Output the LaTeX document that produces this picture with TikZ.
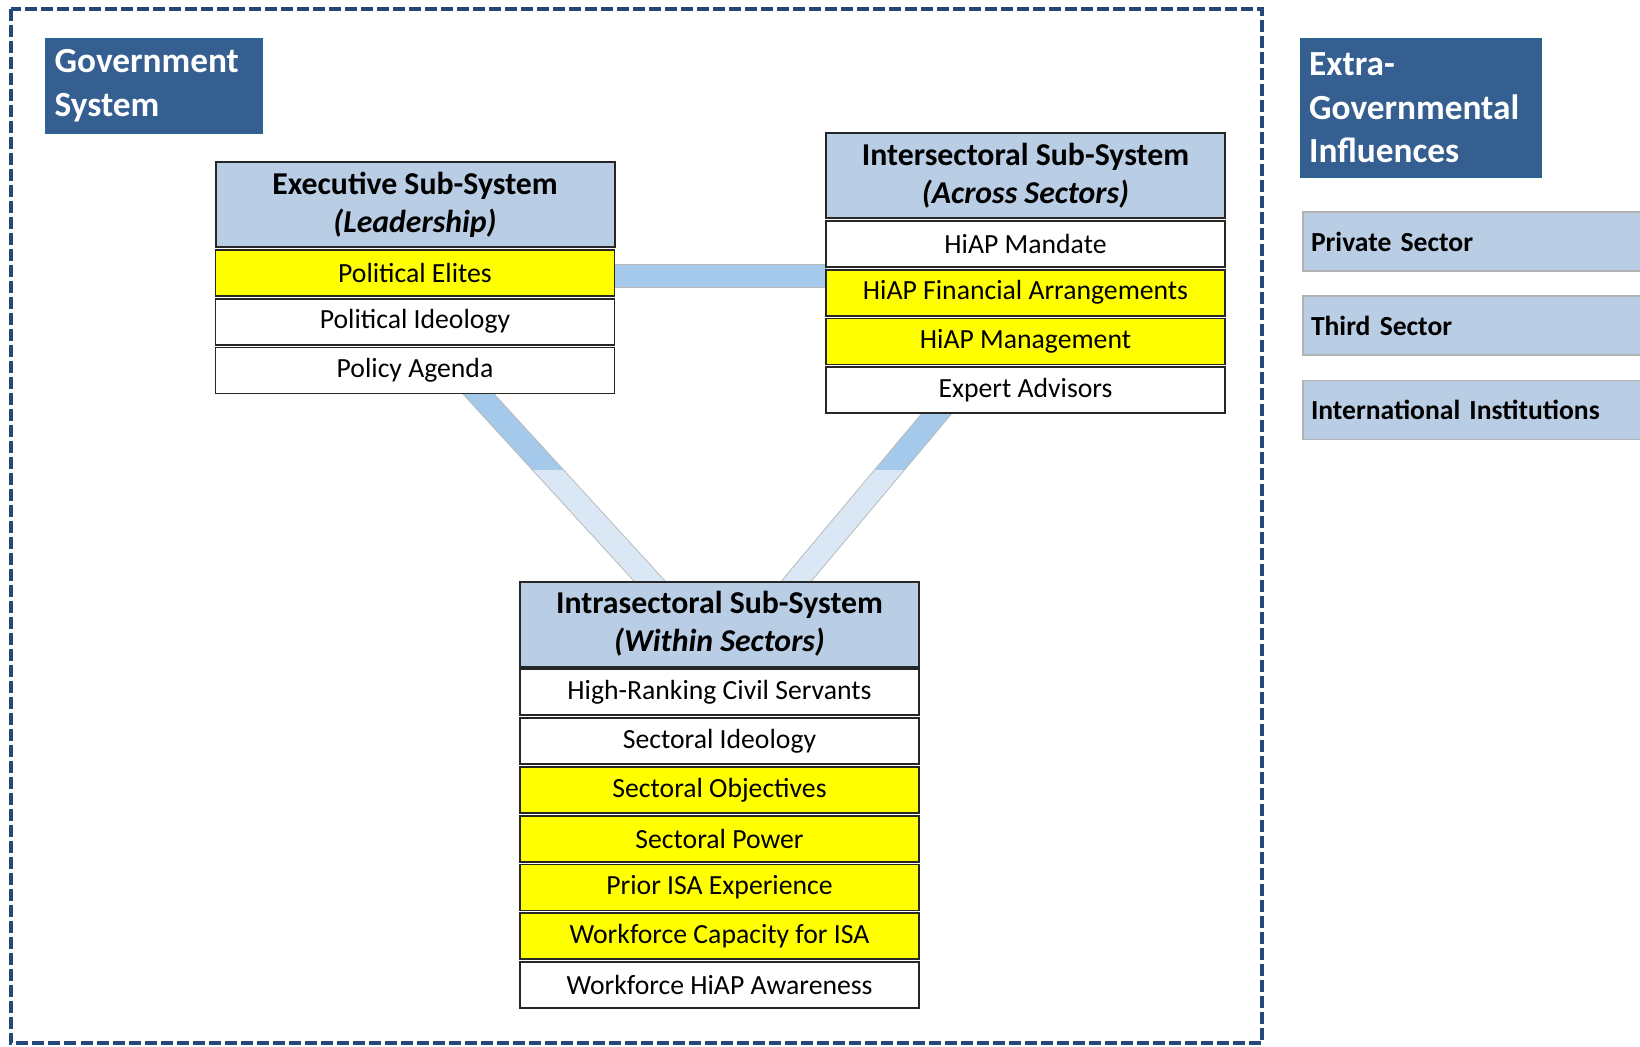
\documentclass[tikz,border=0pt]{standalone}
\usepackage{fontspec}
\setmainfont{Carlito}
\usetikzlibrary{positioning, calc, backgrounds}
\definecolor{GovBlue}{HTML}{365F91}
\definecolor{HeadBlue}{HTML}{B9CDE5}
\definecolor{FrameBlue}{HTML}{24487A}
\definecolor{BandDark}{HTML}{A4C9EB}
\definecolor{BandLight}{HTML}{DAE8F6}
\definecolor{HiYellow}{HTML}{FFFF00}

\tikzset{
  frame/.style={FrameBlue, line width=2pt, dash pattern=on 6pt off 2pt},
  govtitle/.style={anchor=north west, fill=GovBlue, draw=GovBlue!70!teal, line width=0.6pt,
    text=white, align=left, inner xsep=4.5pt, inner ysep=0pt},
  head/.style={anchor=north west, draw=black!85, line width=1pt, fill=HeadBlue,
    minimum width=199.5pt, minimum height=42.5pt, inner sep=0pt, outer sep=0pt, align=center,
    font=\bfseries\fontsize{15.9}{18.85}\selectfont},
  item/.style={draw=black!85, line width=0.9pt, fill=white, minimum width=199.5pt,
    minimum height=23pt, inner sep=0pt, outer sep=0pt, font=\fontsize{13.85}{16}\selectfont},
  hot/.style={item, fill=HiYellow},
  sector/.style={anchor=north west, draw=gray!60, line width=0.6pt, fill=HeadBlue,
    minimum height=29.5pt, text width=163pt, inner xsep=4pt, outer sep=0pt, align=left,
    font=\bfseries\fontsize{13.8}{16}\selectfont},
  bandline/.style={draw=gray!55, line width=0.4pt}
}

% band between two coordinates, pushed #3 into the boxes; darker above y=470
\newcommand{\linkband}[3]{%
  \path ($(#1)!-#3!(#2)$) coordinate (b1) ($(#2)!-#3!(#1)$) coordinate (b2);
  \path ($(b1)!5.75pt!90:(b2)$) coordinate (c1) ($(b2)!5.75pt!-90:(b1)$) coordinate (c2)
    ($(b2)!5.75pt!90:(b1)$) coordinate (c3) ($(b1)!5.75pt!-90:(b2)$) coordinate (c4);
  \fill[BandLight] (c1) -- (c2) -- (c3) -- (c4) -- cycle;
  \begin{scope}
    \clip (c1) -- (c2) -- (c3) -- (c4) -- cycle;
    \fill[BandDark] (0,0) rectangle (1640,470);
  \end{scope}
  \draw[bandline] (c1) -- (c2) -- (c3) -- (c4) -- cycle;}

\begin{document}
\begin{tikzpicture}[x=0.5pt, y=-0.5pt, node distance=1.4pt]
  \useasboundingbox (0,0) rectangle (1640,1046);
  \draw[frame] (11,8.5) rectangle (1261.5,1043);

  \node[govtitle, minimum width=108.25pt, minimum height=47.5pt, text width=99.25pt,
    font=\bfseries\fontsize{17.65}{22}\selectfont] (gov) at (45,38) {Government\\System};
  \node[govtitle, minimum width=120.5pt, minimum height=69.5pt, text width=112pt, inner xsep=4.25pt,
    font=\bfseries\fontsize{17.65}{21.7}\selectfont] (extra) at (1300,37.7)
    {Extra-\\Governmental\\Influences};

  \node[head] (exec) at (215.5,162) {Executive Sub-System\\\textit{(Leadership)}};
  \node[hot, below=of exec] (elites) {Political Elites};
  \node[item, below=of elites] (ideology) {Political Ideology};
  \node[item, below=of ideology] (agenda) {Policy Agenda};

  \node[head] (inter) at (826,133) {Intersectoral Sub-System\\\textit{(Across Sectors)}};
  \node[item, below=of inter] (mandate) {HiAP Mandate};
  \node[hot, below=of mandate] (finance) {HiAP Financial Arrangements};
  \node[hot, below=of finance] (manage) {HiAP Management};
  \node[item, below=of manage] (expert) {Expert Advisors};

  \node[head] (intra) at (520,581.5) {Intrasectoral Sub-System\\\textit{(Within Sectors)}};
  \node[item, below=of intra] (servants) {High-Ranking Civil Servants};
  \node[item, below=of servants] (secideo) {Sectoral Ideology};
  \node[hot, below=of secideo] (objectives) {Sectoral Objectives};
  \node[hot, below=of objectives] (power) {Sectoral Power};
  \node[hot, below=of power] (prior) {Prior ISA Experience};
  \node[hot, below=of prior] (capacity) {Workforce Capacity for ISA};
  \node[item, below=of capacity] (awareness) {Workforce HiAP Awareness};

  \node[sector] (private) at (1303,212) {Private Sector};
  \node[sector, below=12.5pt of private] (third) {Third Sector};
  \node[sector, below=12.8pt of third] (intl) {International Institutions};

  \begin{scope}[on background layer]
    \path (elites.east) ++(0,-1.6pt) coordinate (hA);
    \coordinate (hB) at (hA -| inter.west);
    \linkband{hA}{hB}{0pt}
    \coordinate (lA) at ([xshift=31.5pt]agenda.south);
    \coordinate (lB) at ([xshift=-34.75pt]intra.north);
    \linkband{lA}{lB}{8pt}
    \coordinate (rA) at ([xshift=-44.25pt]expert.south);
    \coordinate (rB) at ([xshift=38.25pt]intra.north);
    \linkband{rA}{rB}{8pt}
  \end{scope}
\end{tikzpicture}
\end{document}
